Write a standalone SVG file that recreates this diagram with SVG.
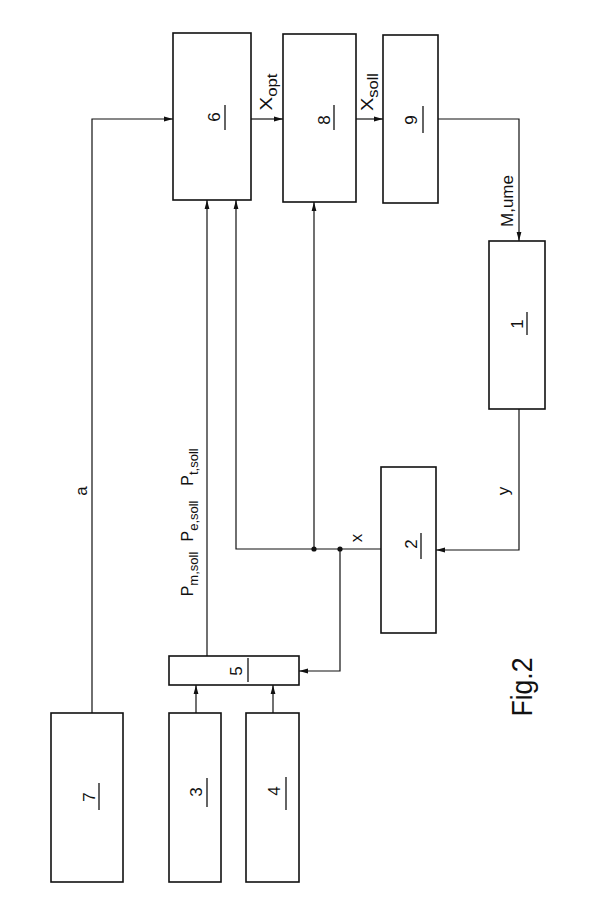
<svg xmlns="http://www.w3.org/2000/svg" width="603" height="922" viewBox="0 0 603 922">
<style>
.box{fill:none;stroke:#111;stroke-width:1.6}
.ln{fill:none;stroke:#111;stroke-width:1.2}
.ul{stroke:#111;stroke-width:1.3}
.t{font-family:"Liberation Sans",Arial,sans-serif;font-size:17px;fill:#111;text-anchor:middle}
.p{font-size:16px}
.sub{font-size:14px}
.psub{font-size:13px}
.fig{font-family:"Liberation Sans",Arial,sans-serif;font-size:30px;fill:#111;text-anchor:middle}
</style>
<defs>
<marker id="ah" markerWidth="9" markerHeight="6" refX="9" refY="3" orient="auto" markerUnits="userSpaceOnUse">
<path d="M0,0.6 L9,3 L0,5.4 Z" fill="#111"/>
</marker>
</defs>
<rect width="603" height="922" fill="#fff"/>
<g id="connectors">
<path class="ln" d="M92,713 V119 H173" marker-end="url(#ah)"/>
<path class="ln" d="M251,119 H283" marker-end="url(#ah)"/>
<path class="ln" d="M356,119 H383" marker-end="url(#ah)"/>
<path class="ln" d="M438,119 H519 V241" marker-end="url(#ah)"/>
<path class="ln" d="M519,409 V550 H436" marker-end="url(#ah)"/>
<path class="ln" d="M381,549 H236 V200" marker-end="url(#ah)"/>
<path class="ln" d="M314,549 V202" marker-end="url(#ah)"/>
<path class="ln" d="M340,549 V671 H299" marker-end="url(#ah)"/>
<path class="ln" d="M207,656 V200" marker-end="url(#ah)"/>
<path class="ln" d="M196,713 V685" marker-end="url(#ah)"/>
<path class="ln" d="M273,713 V685" marker-end="url(#ah)"/>
<circle cx="314" cy="549" r="2.6" fill="#111"/>
<circle cx="340" cy="549" r="2.6" fill="#111"/>
<text class="t" transform="translate(87,491) rotate(-90)">a</text>
<text class="t" transform="translate(272,92) rotate(-90)" textLength="37" lengthAdjust="spacingAndGlyphs">X<tspan class="sub" dy="5">opt</tspan></text>
<text class="t" transform="translate(373,92) rotate(-90)" textLength="38" lengthAdjust="spacingAndGlyphs">X<tspan class="sub" dy="5">soll</tspan></text>
<text class="t" transform="translate(513,201) rotate(-90)" textLength="52" lengthAdjust="spacingAndGlyphs">M,ume</text>
<text class="t" transform="translate(509,491) rotate(-90)">y</text>
<text class="t" transform="translate(362,538) rotate(-90)">x</text>
<text class="t p" transform="translate(193,574) rotate(-90)">P<tspan class="psub" dy="5">m,soll</tspan></text>
<text class="t p" transform="translate(193,521) rotate(-90)">P<tspan class="psub" dy="5">e,soll</tspan></text>
<text class="t p" transform="translate(193,467) rotate(-90)">P<tspan class="psub" dy="5">t,soll</tspan></text>
</g>
<g id="node6"><rect class="box" x="173" y="33" width="78" height="167"/><text class="t" transform="translate(220,117) rotate(-90)">6</text><line class="ul" x1="225" y1="105" x2="225" y2="130"/></g>
<g id="node8"><rect class="box" x="283" y="34" width="73" height="168"/><text class="t" transform="translate(330,120) rotate(-90)">8</text><line class="ul" x1="334" y1="105" x2="334" y2="130"/></g>
<g id="node9"><rect class="box" x="383" y="35" width="55" height="168"/><text class="t" transform="translate(417,120) rotate(-90)">9</text><line class="ul" x1="423" y1="106" x2="423" y2="133"/></g>
<g id="node1"><rect class="box" x="489" y="241" width="56" height="168"/><text class="t" transform="translate(523,324) rotate(-90)">1</text><line class="ul" x1="527" y1="312" x2="527" y2="335"/></g>
<g id="node2"><rect class="box" x="381" y="467" width="55" height="166"/><text class="t" transform="translate(417,544) rotate(-90)">2</text><line class="ul" x1="421" y1="533" x2="421" y2="559"/></g>
<g id="node5"><rect class="box" x="169" y="656" width="130" height="29"/><text class="t" transform="translate(242,671) rotate(-90)">5</text><line class="ul" x1="248" y1="658" x2="248" y2="682"/></g>
<g id="node7"><rect class="box" x="51" y="713" width="72" height="169"/><text class="t" transform="translate(95,797) rotate(-90)">7</text><line class="ul" x1="99" y1="783" x2="99" y2="810"/></g>
<g id="node3"><rect class="box" x="169" y="713" width="52" height="169"/><text class="t" transform="translate(202,792) rotate(-90)">3</text><line class="ul" x1="207" y1="778" x2="207" y2="807"/></g>
<g id="node4"><rect class="box" x="246" y="713" width="53" height="169"/><text class="t" transform="translate(280,791) rotate(-90)">4</text><line class="ul" x1="286" y1="777" x2="286" y2="810"/></g>
<text class="fig" transform="translate(532,687) rotate(-90)" textLength="59" lengthAdjust="spacingAndGlyphs">Fig.2</text>
</svg>
